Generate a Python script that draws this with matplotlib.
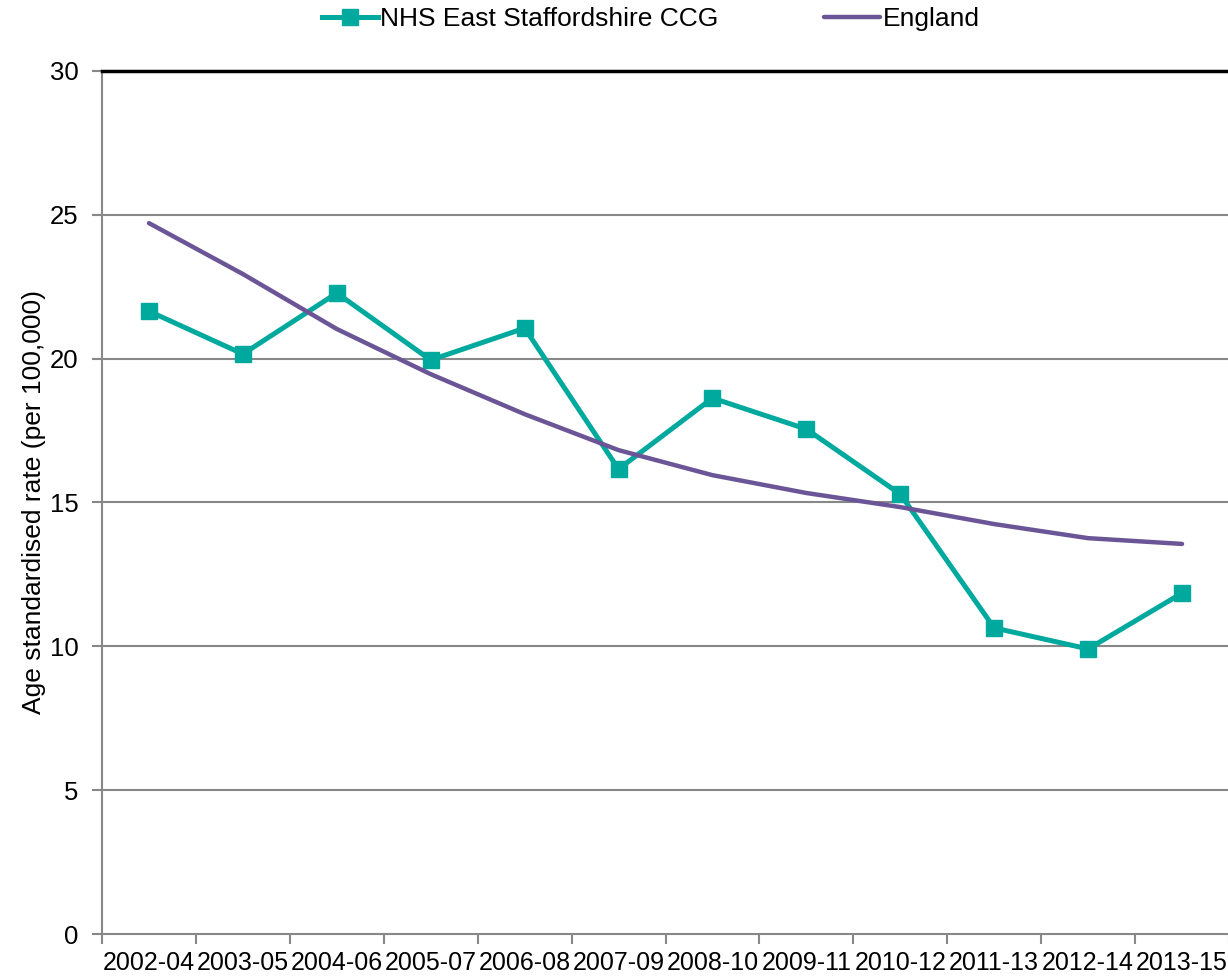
"""Age standardised rate: NHS East Staffordshire CCG vs England."""

import matplotlib

matplotlib.use("Agg")
import matplotlib.pyplot as plt
from matplotlib.ticker import FixedLocator

plt.rcParams["font.family"] = ["Liberation Sans", "DejaVu Sans"]

# Data
periods = [
    "2002-04", "2003-05", "2004-06", "2005-07", "2006-08", "2007-09",
    "2008-10", "2009-11", "2010-12", "2011-13", "2012-14", "2013-15",
]
ccg_rate = [21.65, 20.16, 22.28, 19.95, 21.06, 16.16,
            18.63, 17.55, 15.29, 10.64, 9.91, 11.85]
england_rate = [24.71, 22.94, 21.03, 19.46, 18.07, 16.82,
                15.95, 15.33, 14.84, 14.25, 13.76, 13.56]
y_ticks = [0, 5, 10, 15, 20, 25, 30]

teal = "#00A99D"
purple = "#6B5596"
grid_grey = "#888888"

fig = plt.figure(figsize=(12.28, 9.76), dpi=100)
ax = fig.add_axes([0.0831, 0.043, 0.9177, 0.8843])

x = list(range(len(periods)))
ax.plot(x, ccg_rate, color=teal, lw=3.6, marker="s", ms=11,
        label="NHS East Staffordshire CCG", zorder=3)
ax.plot(x, england_rate, color=purple, lw=3.2, solid_capstyle="round",
        label="England", zorder=3)

ax.set_xlim(-0.5, len(periods) - 0.5)
ax.set_ylim(0, 30)

# category boundaries get the ticks, centres get the labels
ax.xaxis.set_major_locator(FixedLocator([i - 0.5 for i in range(len(periods) + 1)]))
ax.xaxis.set_major_formatter(plt.NullFormatter())
ax.xaxis.set_minor_locator(FixedLocator(x))
ax.set_xticklabels(periods, minor=True)
ax.tick_params(axis="x", which="major", length=7, width=1.5, color=grid_grey)
ax.tick_params(axis="x", which="minor", length=0, pad=12, labelsize=18)

ax.set_yticks(y_ticks)
ax.tick_params(axis="y", length=7, width=1.5, color=grid_grey, pad=10, labelsize=18.5)
ax.set_ylabel("Age standardised rate (per 100,000)", fontsize=19, labelpad=3)

for yv in y_ticks[1:-1]:
    ax.axhline(yv, color=grid_grey, lw=1.5, zorder=1)

ax.spines["left"].set_color(grid_grey)
ax.spines["left"].set_linewidth(1.5)
ax.spines["bottom"].set_color(grid_grey)
ax.spines["bottom"].set_linewidth(1.5)
ax.spines["top"].set_color("black")
ax.spines["top"].set_linewidth(2.5)
ax.spines["right"].set_visible(False)

ax.legend(loc="lower center", bbox_to_anchor=(0.487, 1.0), ncol=2, frameon=False,
          fontsize=19, handlelength=2.1, handletextpad=0.1, columnspacing=4.0,
          borderaxespad=1.1)

fig.savefig("out.png", dpi=100)
